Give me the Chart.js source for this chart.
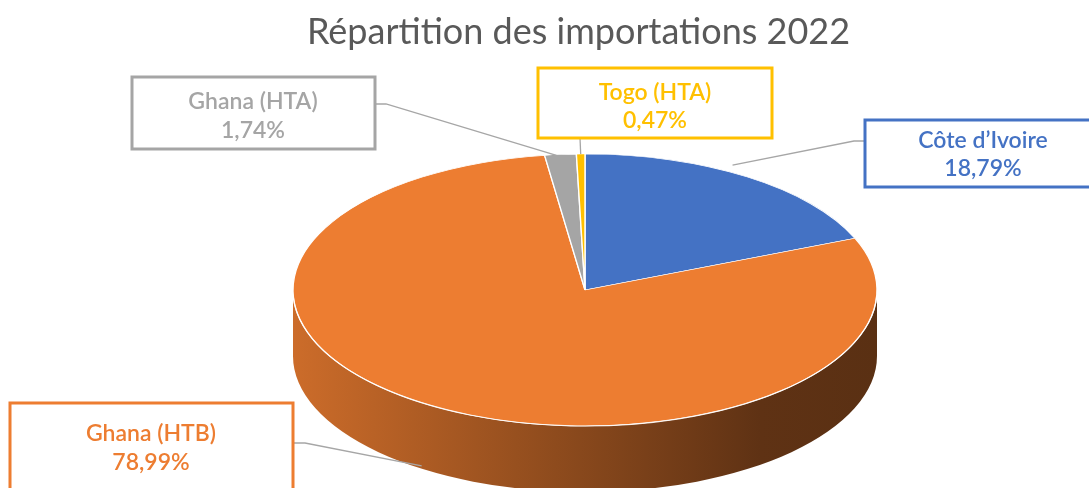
<!DOCTYPE html>
<html>
<head>
<meta charset="utf-8">
<script src="https://cdn.jsdelivr.net/npm/chart.js@4/dist/chart.umd.min.js"></script>
<style>
  html, body { margin: 0; padding: 0; background: #fff; }
  #wrap { position: relative; width: 1089px; height: 488px; }
</style>
</head>
<body>
<div id="wrap"><canvas id="c"></canvas></div>
<script>
// data
const categories = ["Côte d’Ivoire", "Ghana (HTB)", "Ghana (HTA)", "Togo (HTA)"];
const shares = [18.79, 78.99, 1.74, 0.47];
const shareLabels = ["18,79%", "78,99%", "1,74%", "0,47%"];
const colors = ["#4472C4", "#ED7D31", "#A5A5A5", "#FFC000"];

// look of the flattened pie (screen pixels)
const CX = 585, CY = 290, RX = 292, RY = 136, DEPTH = 66;

// label boxes: box rect, text centre, where the leader leaves the box
const boxes = [
  { x: 865, y: 120, w: 240, h: 67, tx: 983, ty: [141, 169], from: [[865, 141], [854, 141]], anchorDx: -15, anchorDy: -12 },
  { x: 10, y: 403, w: 283, h: 100, tx: 151, ty: [434, 463], from: [[293, 443], [305, 443]], anchorDx: -18, anchorDy: 58 },
  { x: 132, y: 77, w: 243, h: 72, tx: 253, ty: [102, 131], from: [[375, 104], [386, 104]], anchorDx: -4, anchorDy: 1 },
  { x: 538, y: 68, w: 234, h: 70, tx: 655, ty: [93, 121], from: [[580, 138]], anchorDx: 0, anchorDy: 0 }
];

const FONT = "Lato, 'Noto Sans', sans-serif";

function darker(hex, f) {
  const n = parseInt(hex.slice(1), 16);
  const r = Math.round(((n >> 16) & 255) * f), g = Math.round(((n >> 8) & 255) * f), b = Math.round((n & 255) * f);
  return `rgb(${r},${g},${b})`;
}

const pie3d = {
  id: "pie3d",
  beforeDatasetsDraw(chart) {
    const ctx = chart.ctx;
    const meta = chart.getDatasetMeta(0);
    const first = meta.data[0];
    const r = first.outerRadius;

    // side wall of the visible (front) half
    meta.data.forEach((arc, i) => {
      const s = Math.max(arc.startAngle, 0);
      const e = Math.min(arc.endAngle, Math.PI);
      if (e <= s) return;
      const grad = ctx.createLinearGradient(CX - RX, 0, CX + RX, 0);
      grad.addColorStop(0, darker(colors[i], 0.86));
      grad.addColorStop(0.45, darker(colors[i], 0.6));
      grad.addColorStop(0.8, darker(colors[i], 0.4));
      grad.addColorStop(1, darker(colors[i], 0.38));
      ctx.beginPath();
      ctx.ellipse(CX, CY, RX, RY, 0, s, e, false);
      ctx.ellipse(CX, CY + DEPTH, RX, RY, 0, e, s, true);
      ctx.closePath();
      ctx.fillStyle = grad;
      ctx.fill();
    });

    // squash the pie itself into the top face
    ctx.save();
    ctx.translate(CX, CY);
    ctx.scale(RX / r, RY / r);
    ctx.translate(-first.x, -first.y);
  },
  afterDatasetsDraw(chart) {
    const ctx = chart.ctx;
    ctx.restore();

    // light rim along the front edge
    ctx.save();
    ctx.strokeStyle = "rgba(255,255,255,0.85)";
    ctx.lineWidth = 1.2;
    ctx.beginPath();
    ctx.ellipse(CX, CY, RX, RY, 0, 0.05, Math.PI - 0.05, false);
    ctx.stroke();
    ctx.restore();

    // leader lines, boxes, texts
    const meta = chart.getDatasetMeta(0);
    ctx.save();
    meta.data.forEach((arc, i) => {
      const b = boxes[i];
      const m = (arc.startAngle + arc.endAngle) / 2;
      const ax = CX + RX * Math.cos(m) + b.anchorDx;
      const ay = CY + RY * Math.sin(m) + b.anchorDy;
      ctx.strokeStyle = "#A6A6A6";
      ctx.lineWidth = 1.3;
      ctx.beginPath();
      ctx.moveTo(b.from[0][0], b.from[0][1]);
      for (let k = 1; k < b.from.length; k++) ctx.lineTo(b.from[k][0], b.from[k][1]);
      ctx.lineTo(ax, ay);
      ctx.stroke();

      ctx.fillStyle = "#fff";
      ctx.fillRect(b.x, b.y, b.w, b.h);
      ctx.strokeStyle = colors[i];
      ctx.lineWidth = 3;
      ctx.strokeRect(b.x, b.y, b.w, b.h);

      ctx.fillStyle = colors[i];
      ctx.font = "600 23px " + FONT;
      ctx.textAlign = "center";
      ctx.textBaseline = "middle";
      ctx.fillText(categories[i], b.tx, b.ty[0]);
      ctx.fillText(shareLabels[i], b.tx, b.ty[1]);
    });
    ctx.restore();
  }
};

new Chart(document.getElementById("c"), {
  type: "pie",
  data: {
    labels: categories,
    datasets: [{
      data: shares,
      backgroundColor: colors,
      borderColor: "#ffffff",
      borderWidth: 1
    }]
  },
  options: {
    responsive: true,
    maintainAspectRatio: false,
    animation: false,
    events: [],
    layout: { padding: { left: 68 } },
    plugins: {
      legend: { display: false },
      tooltip: { enabled: false },
      title: {
        display: true,
        text: "Répartition des importations 2022",
        color: "#595959",
        font: { family: FONT, size: 36, weight: "normal" },
        padding: { top: 11, bottom: 10 }
      }
    }
  },
  plugins: [pie3d]
});
</script>
</body>
</html>
